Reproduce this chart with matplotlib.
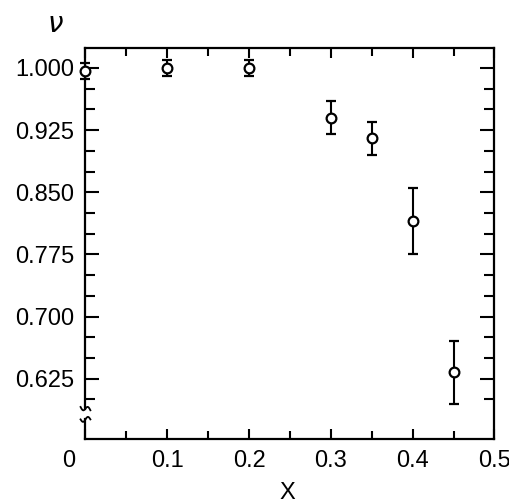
import matplotlib
matplotlib.use("Agg")
import matplotlib.pyplot as plt
import matplotlib.transforms as mtransforms
from matplotlib import font_manager
import numpy as np

x_vals = [0.0, 0.1, 0.2, 0.3, 0.35, 0.4, 0.45]
nu_vals = [0.996, 1.000, 1.000, 0.940, 0.915, 0.815, 0.633]
nu_err = [0.010, 0.010, 0.010, 0.020, 0.020, 0.040, 0.038]

x_ticks = [0, 0.1, 0.2, 0.3, 0.4, 0.5]
x_ticklabels = ["0", "0.1", "0.2", "0.3", "0.4", "0.5"]
y_ticks = [0.625, 0.700, 0.775, 0.850, 0.925, 1.000]
y_ticklabels = ["0.625", "0.700", "0.775", "0.850", "0.925", "1.000"]

names = {f.name for f in font_manager.fontManager.ttflist}
if 'Liberation Sans Narrow' in names:
    fam = ['Liberation Sans Narrow', 'DejaVu Sans']
    lsize = 19
else:
    fam = ['Liberation Sans', 'DejaVu Sans']
    lsize = 17
plt.rcParams['font.family'] = fam

fig = plt.figure(figsize=(5.10, 5.04), dpi=100)
ax = fig.add_axes([0.1676, 0.1284, 0.802, 0.7754])

ax.errorbar(x_vals, nu_vals, yerr=nu_err, fmt='o', color='black',
            mfc='white', mec='black', ms=7, mew=1.6,
            elinewidth=1.5, capsize=3.8, capthick=1.5, clip_on=False, zorder=3)

ax.set_xlim(0, 0.5)
ax.set_ylim(0.552, 1.0234)

ax.set_xticks(x_ticks)
ax.set_xticklabels(x_ticklabels)
ax.set_xticks(np.arange(0.05, 0.5, 0.1), minor=True)
ax.set_yticks(y_ticks)
ax.set_yticklabels(y_ticklabels)
ax.set_yticks([0.600, 0.650, 0.675, 0.725, 0.750, 0.800, 0.825, 0.875, 0.900, 0.950, 0.975], minor=True)

ax.tick_params(axis='x', which='major', direction='in', length=7.5, width=1.5,
               top=True, bottom=True, labelsize=lsize, pad=8)
ax.tick_params(axis='x', which='minor', direction='in', length=5.5, width=1.5,
               top=True, bottom=True)
ax.tick_params(axis='y', which='major', direction='in', length=10, width=1.5,
               left=True, right=True, labelsize=lsize, pad=8)
ax.tick_params(axis='y', which='minor', direction='in', length=7, width=1.5,
               left=True, right=True)

for s in ['top', 'right', 'bottom']:
    ax.spines[s].set_linewidth(1.6)
ax.spines['left'].set_visible(False)

# broken left spine
ytr = ax.get_yaxis_transform()
ax.plot([0, 0], [0.589, 1.0234], transform=ytr, color='black', lw=1.6, clip_on=False)
ax.plot([0, 0], [0.552, 0.576], transform=ytr, color='black', lw=1.6, clip_on=False)
t = np.linspace(-1, 1, 30)
dx_ax = 0.012
ax.plot(t * dx_ax, 0.589 + 0.003 * np.sin(np.pi * t) - 0.002 * t, transform=ytr,
        color='black', lw=1.3, clip_on=False)
ax.plot(t * dx_ax, 0.576 + 0.003 * np.sin(np.pi * t), transform=ytr,
        color='black', lw=1.3, clip_on=False)

lbl0 = ax.get_xticklabels()[0]
lbl0.set_transform(lbl0.get_transform() + mtransforms.ScaledTranslation(-17/100, 0, fig.dpi_scale_trans))

fig.text(287/510, 1 - 493/504, "X", ha='center', va='center', fontsize=lsize)
fig.text(55/510, 1 - 25/504, r"$\nu$", ha='center', va='center', fontsize=20)

fig.savefig("out.png", dpi=100)
